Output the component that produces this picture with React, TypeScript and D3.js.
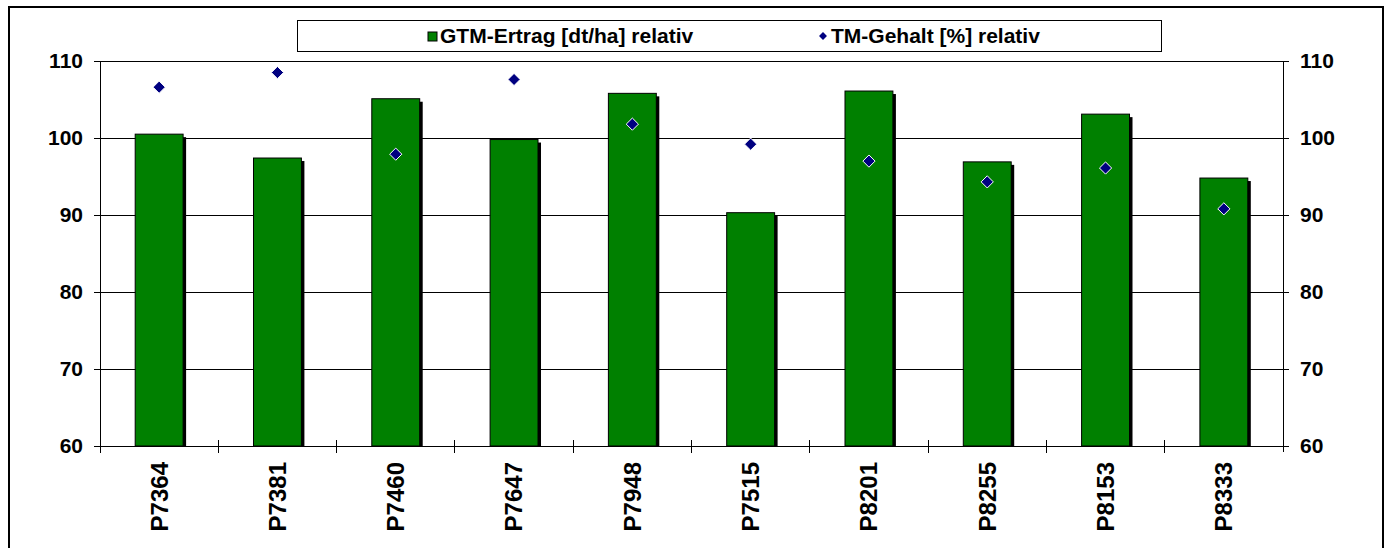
import React, { useEffect, useRef } from 'react';
import * as d3 from 'd3';

const categories = ['P7364', 'P7381', 'P7460', 'P7647', 'P7948', 'P7515', 'P8201', 'P8255', 'P8153', 'P8333'];
const gtmErtrag = [100.5, 97.4, 105.1, 99.8, 105.8, 90.3, 106.1, 96.9, 103.1, 94.8];
const tmGehalt = [106.6, 108.5, 97.9, 107.6, 101.8, 99.2, 97.0, 94.3, 96.1, 90.8];
const yTicks = [60, 70, 80, 90, 100, 110];
const seriesNames = ['GTM-Ertrag [dt/ha] relativ', 'TM-Gehalt [%] relativ'];

export default function App() {
  const ref = useRef<SVGSVGElement>(null);

  useEffect(() => {
    const svg = d3.select(ref.current);
    svg.selectAll('*').remove();

    const width = 1389;
    const height = 548;
    const left = 100, right = 1283, top = 61, bottom = 446;
    const font = 'Liberation Sans, Arial, sans-serif';

    svg.attr('width', width).attr('height', height);

    svg.append('rect')
      .attr('width', width).attr('height', height).attr('fill', '#fff');

    // outer frame
    svg.append('rect')
      .attr('x', 9).attr('y', 7).attr('width', 1374).attr('height', 560)
      .attr('fill', 'none').attr('stroke', '#000').attr('stroke-width', 2);

    const x = d3.scaleBand().domain(categories).range([left, right]).paddingInner(0).paddingOuter(0);
    const y = d3.scaleLinear().domain([60, 110]).range([bottom, top]);

    // grid lines
    svg.append('g').selectAll('line').data(yTicks.filter(t => t > 60)).enter().append('line')
      .attr('x1', left).attr('x2', right)
      .attr('y1', d => y(d)).attr('y2', d => y(d))
      .attr('stroke', '#000').attr('stroke-width', 1).attr('shape-rendering', 'crispEdges');

    const bw = x.bandwidth() * 0.405;

    svg.append('defs').append('clipPath').attr('id', 'plotclip')
      .append('rect').attr('x', left).attr('y', 0).attr('width', right - left).attr('height', bottom);

    const bars = svg.append('g');
    // shadows
    bars.append('g').attr('clip-path', 'url(#plotclip)')
      .selectAll('rect').data(gtmErtrag).enter().append('rect')
      .attr('x', (d, i) => (x(categories[i]) as number) + (x.bandwidth() - bw) / 2 + 3)
      .attr('y', d => y(d) + 3)
      .attr('width', bw)
      .attr('height', d => bottom - y(d))
      .attr('fill', '#000');
    bars.selectAll('rect.bar').data(gtmErtrag).enter().append('rect')
      .attr('class', 'bar')
      .attr('x', (d, i) => (x(categories[i]) as number) + (x.bandwidth() - bw) / 2)
      .attr('y', d => y(d))
      .attr('width', bw)
      .attr('height', d => bottom - y(d))
      .attr('fill', '#008000').attr('stroke', '#000').attr('stroke-width', 1);

    // axes lines
    const axes = svg.append('g').attr('stroke', '#000').attr('stroke-width', 1).attr('shape-rendering', 'crispEdges');
    axes.append('line').attr('x1', left).attr('x2', left).attr('y1', top).attr('y2', bottom);
    axes.append('line').attr('x1', right).attr('x2', right).attr('y1', top).attr('y2', bottom + 6);
    axes.append('line').attr('x1', left - 6).attr('x2', right).attr('y1', bottom).attr('y2', bottom);
    yTicks.forEach(t => {
      axes.append('line').attr('x1', left - 6).attr('x2', left + 5).attr('y1', y(t)).attr('y2', y(t));
      axes.append('line').attr('x1', right - 6).attr('x2', right + 6).attr('y1', y(t)).attr('y2', y(t));
    });
    categories.forEach(c => {
      const xx = x(c) as number;
      axes.append('line').attr('x1', xx).attr('x2', xx).attr('y1', bottom - 6).attr('y2', bottom + 7);
    });

    // diamonds
    const sym = d3.symbol().type(d3.symbolDiamond2).size(95);
    svg.append('g').selectAll('path').data(tmGehalt).enter().append('path')
      .attr('d', sym)
      .attr('transform', (d, i) => `translate(${(x(categories[i]) as number) + x.bandwidth() / 2},${y(d)})`)
      .attr('fill', '#000080').attr('stroke', '#fff').attr('stroke-width', 1);

    // tick labels
    const lab = svg.append('g').attr('font-family', font).attr('font-weight', 'bold').attr('font-size', 21).attr('fill', '#000');
    yTicks.forEach(t => {
      lab.append('text').attr('x', 83).attr('y', y(t)).attr('dy', '0.35em').attr('text-anchor', 'end').text(t);
      lab.append('text').attr('x', 1300).attr('y', y(t)).attr('dy', '0.35em').attr('text-anchor', 'start').text(t);
    });
    categories.forEach(c => {
      const cx = (x(c) as number) + x.bandwidth() / 2;
      lab.append('text')
        .attr('transform', `translate(${cx},462) rotate(-90)`)
        .attr('dy', '0.35em')
        .attr('text-anchor', 'end')
        .attr('font-size', 24)
        .text(c);
    });

    // legend
    const lg = svg.append('g');
    lg.append('rect').attr('x', 297.5).attr('y', 20.5).attr('width', 864).attr('height', 31)
      .attr('fill', '#fff').attr('stroke', '#000').attr('stroke-width', 1);
    lg.append('rect').attr('x', 428).attr('y', 32).attr('width', 9).attr('height', 9)
      .attr('fill', '#008000').attr('stroke', '#000').attr('stroke-width', 1);
    lg.append('text').attr('x', 440).attr('y', 36).attr('dy', '0.35em')
      .attr('font-family', font).attr('font-weight', 'bold').attr('font-size', 21).text(seriesNames[0]);
    lg.append('path').attr('d', d3.symbol().type(d3.symbolDiamond2).size(40)())
      .attr('transform', 'translate(823,36)').attr('fill', '#000080');
    lg.append('text').attr('x', 831).attr('y', 36).attr('dy', '0.35em')
      .attr('font-family', font).attr('font-weight', 'bold').attr('font-size', 21).text(seriesNames[1]);
  }, []);

  return (
    <div style={{ position: 'fixed', left: 0, top: 0 }}>
      <svg ref={ref}></svg>
    </div>
  );
}
